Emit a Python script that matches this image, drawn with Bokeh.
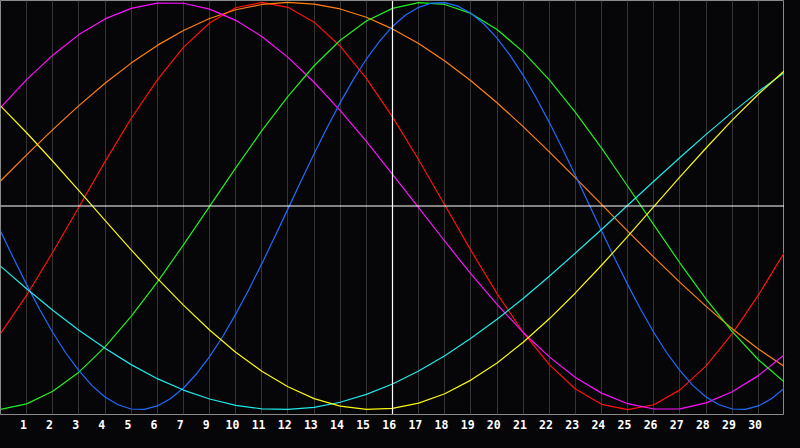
from bokeh.plotting import figure
from bokeh.models import Range1d, FixedTicker, Span
from bokeh.embed import file_html
from bokeh.resources import INLINE

# day positions (0 .. 30) across the chart
days = list(range(0, 31))
# blue is the fastest cycle: read every half day
half_days = [k / 2 for k in range(0, 61)]

# tick labels shown under the chart (8 is absent in the reference)
tick_labels = ["1", "2", "3", "4", "5", "6", "7", "9", "10", "11", "12", "13", "14", "15",
               "16", "17", "18", "19", "20", "21", "22", "23", "24", "25", "26", "27",
               "28", "29", "30"]

# cycle values (-1 .. 1), one per day
red = [-0.627, -0.438, -0.227, -0.005, 0.218, 0.430, 0.620, 0.779, 0.899, 0.974, 1.000,
       0.976, 0.903, 0.785, 0.627, 0.438, 0.227, 0.005, -0.218, -0.430, -0.620, -0.779,
       -0.899, -0.974, -1.000, -0.976, -0.903, -0.785, -0.627, -0.438, -0.227]
orange = [0.123, 0.251, 0.375, 0.493, 0.603, 0.702, 0.789, 0.862, 0.921, 0.964, 0.990,
          1.000, 0.992, 0.968, 0.927, 0.870, 0.798, 0.712, 0.615, 0.507, 0.390, 0.266,
          0.138, 0.008, -0.123, -0.251, -0.375, -0.493, -0.603, -0.702, -0.789]
magenta = [0.483, 0.621, 0.741, 0.842, 0.919, 0.971, 0.997, 0.996, 0.967, 0.912, 0.833,
           0.730, 0.608, 0.469, 0.317, 0.156, -0.008, -0.173, -0.333, -0.483, -0.621,
           -0.741, -0.842, -0.919, -0.971, -0.997, -0.996, -0.967, -0.912, -0.833, -0.730]
green = [-0.999, -0.972, -0.910, -0.816, -0.692, -0.542, -0.374, -0.191, -0.002, 0.187,
         0.370, 0.539, 0.689, 0.814, 0.909, 0.971, 0.999, 0.990, 0.946, 0.867, 0.757,
         0.620, 0.460, 0.284, 0.097, -0.093, -0.280, -0.457, -0.617, -0.755, -0.865]
# blue, one value per half day
blue = [-0.123, -0.257, -0.386, -0.508, -0.621, -0.722, -0.809, -0.882, -0.938, -0.976,
        -0.997, -0.999, -0.982, -0.947, -0.894, -0.825, -0.740, -0.642, -0.531, -0.411,
        -0.283, -0.150, -0.014, 0.123, 0.257, 0.386, 0.508, 0.621, 0.722, 0.809, 0.882,
        0.938, 0.976, 0.997, 0.999, 0.982, 0.947, 0.894, 0.825, 0.740, 0.642, 0.531,
        0.411, 0.283, 0.150, 0.014, -0.123, -0.257, -0.386, -0.508, -0.621, -0.722,
        -0.809, -0.882, -0.938, -0.976, -0.997, -0.999, -0.982, -0.947, -0.894]
cyan = [-0.295, -0.406, -0.512, -0.610, -0.699, -0.779, -0.848, -0.904, -0.948, -0.979,
        -0.996, -0.999, -0.989, -0.964, -0.925, -0.874, -0.810, -0.735, -0.650, -0.556,
        -0.454, -0.345, -0.231, -0.115, 0.004, 0.122, 0.238, 0.352, 0.460, 0.562, 0.656]
yellow = [0.492, 0.360, 0.220, 0.076, -0.070, -0.215, -0.355, -0.487, -0.609, -0.718,
          -0.812, -0.888, -0.946, -0.983, -0.999, -0.994, -0.968, -0.922, -0.855, -0.771,
          -0.669, -0.554, -0.427, -0.291, -0.149, -0.003, 0.143, 0.285, 0.422, 0.549, 0.665]

series = [
    (days, red, "#ff1010"),
    (days, orange, "#ff8010"),
    (days, magenta, "#ff10ff"),
    (days, green, "#20f020"),
    (half_days, blue, "#1e6cff"),
    (days, cyan, "#20e8e8"),
    (days, yellow, "#f8f810"),
]

BG = "#060608"

p = figure(width=784, height=432, output_backend="svg", toolbar_location=None,
           x_range=Range1d(0, 30), y_range=Range1d(-1.024, 1.0095),
           min_border_left=0, min_border_right=0, min_border_top=0, min_border_bottom=18)
p.background_fill_color = BG
p.border_fill_color = BG
p.outline_line_color = "#8a8a8a"
p.outline_line_width = 1

p.yaxis.visible = False
p.ygrid.visible = False

p.xgrid.ticker = FixedTicker(ticks=list(range(1, 30)))
p.xgrid.grid_line_color = "#353535"
p.xgrid.grid_line_width = 1

tick_pos = [j + 0.875 for j in range(len(tick_labels))]
p.xaxis.ticker = FixedTicker(ticks=tick_pos)
p.xaxis.major_label_overrides = {t: s for t, s in zip(tick_pos, tick_labels)}
p.xaxis.axis_line_color = None
p.xaxis.major_tick_line_color = None
p.xaxis.minor_tick_line_color = None
p.xaxis.major_tick_out = 0
p.xaxis.major_tick_in = 0
p.xaxis.major_label_text_color = "white"
p.xaxis.major_label_text_font = "DejaVu Sans Mono"
p.xaxis.major_label_text_font_style = "bold"
p.xaxis.major_label_text_font_size = "11.5px"
p.xaxis.major_label_standoff = 5

for xs, vals, col in series:
    p.line(xs, vals, line_color=col, line_width=1.2)

p.add_layout(Span(location=0, dimension="width", line_color="white", line_width=1.2))
p.add_layout(Span(location=15, dimension="height", line_color="white", line_width=1.2))

html = file_html(p, INLINE)
html = html.replace("<body>", '<body style="background-color:#060608;">')
open("out.html", "w").write(html)
